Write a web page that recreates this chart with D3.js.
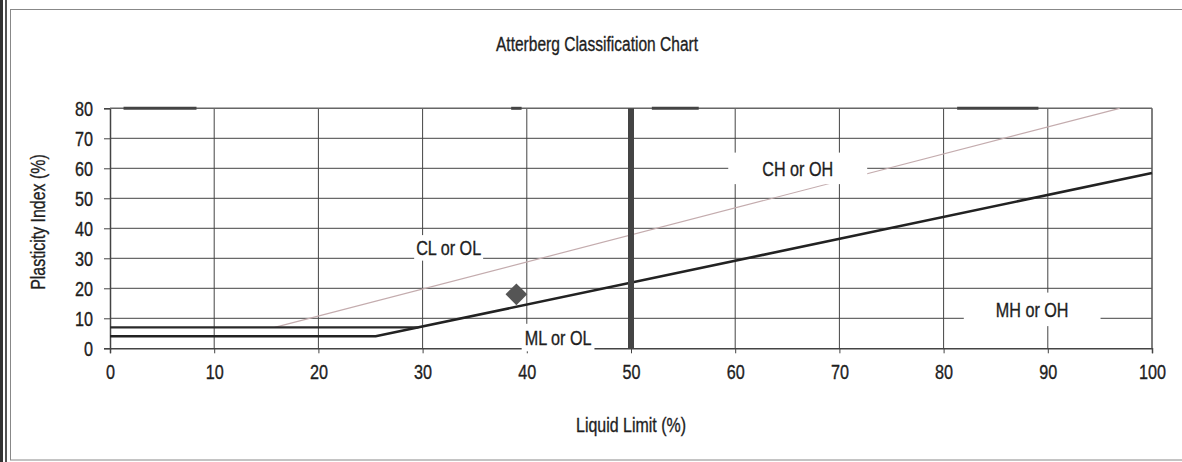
<!DOCTYPE html>
<html>
<head>
<meta charset="utf-8">
<script src="https://cdn.jsdelivr.net/npm/d3@7"></script>
<style>
body { margin: 0; background: #fff; }
text { font-family: "Liberation Sans", Arial, sans-serif; fill: #1e1e1e; stroke: #1e1e1e; stroke-width: 0.35px; }
</style>
</head>
<body>
<div id="chart"></div>
<script>
// axis ticks
const xTicks = [0, 10, 20, 30, 40, 50, 60, 70, 80, 90, 100];
const yTicks = [0, 10, 20, 30, 40, 50, 60, 70, 80];

// classification lines (LL, PI)
const aLine = [{ll: 0, pi: 4}, {ll: 25.5, pi: 4}, {ll: 100, pi: 58.4}];
const upperBand = [{ll: 0, pi: 7}, {ll: 29.6, pi: 7}];
const uLine = [{ll: 15.8, pi: 7}, {ll: 96.9, pi: 80}];
const llBoundary = [{ll: 50, pi: 0}, {ll: 50, pi: 80}];
// stray dark segments along the PI = 80 border
const topMarks = [[1.3, 8.3], [38.5, 39.5], [52, 56.5], [81.3, 89.1]];

// sample result
const samples = [{ll: 39, pi: 18}];

// zone labels
const zones = [
  {name: "CL or OL", ll: 32.5, pi: 33.5, padX: 2, padY: 1},
  {name: "ML or OL", ll: 43, pi: 3.6, padX: 3, padY: 2},
  {name: "CH or OH", ll: 66, pi: 60, padX: 34, padY: 4},
  {name: "MH or OH", ll: 88.5, pi: 13, padX: 32, padY: 5}
];

const W = 1182, H = 462;
const SX = 0.77; // the scanned type is condensed
const svg = d3.select("#chart").append("svg").attr("width", W).attr("height", H);

// place a horizontally condensed text
function narrow(sel, px, py, sx) {
  sel.attr("x", 0).attr("y", 0)
    .attr("transform", `translate(${px},${py}) scale(${sx},1)`);
}

// scanned page frame
svg.append("rect").attr("x", 0).attr("y", 0).attr("width", 3).attr("height", H).attr("fill", "#333");
svg.append("rect").attr("x", 5).attr("y", 0).attr("width", 2).attr("height", H).attr("fill", "#555");
svg.append("rect").attr("x", 10.5).attr("y", 9.5).attr("width", W).attr("height", 450.5)
  .attr("fill", "none").attr("stroke", "#888").attr("stroke-width", 1);

const x = d3.scaleLinear().domain([0, 100]).range([110, 1152]);
const y = d3.scaleLinear().domain([0, 80]).range([348.3, 108.3]);

svg.append("text").attr("text-anchor", "middle").style("font-size", "21px")
  .text("Atterberg Classification Chart")
  .call(narrow, 597, 51, 0.74);

const g = svg.append("g");

// gridlines
g.selectAll(".vgrid").data(xTicks.slice(1, -1)).enter().append("line")
  .attr("x1", d => x(d)).attr("x2", d => x(d)).attr("y1", y(0)).attr("y2", y(80))
  .attr("stroke", "#444").attr("stroke-width", 1);
g.selectAll(".hgrid").data(yTicks.slice(1, -1)).enter().append("line")
  .attr("x1", x(0)).attr("x2", x(100)).attr("y1", d => y(d)).attr("y2", d => y(d))
  .attr("stroke", "#444").attr("stroke-width", 1);

// axes
const xAxis = g.append("g").attr("transform", `translate(0,${y(0)})`)
  .call(d3.axisBottom(x).tickValues(xTicks).tickSize(5));
const yAxis = g.append("g").attr("transform", `translate(${x(0)},0)`)
  .call(d3.axisLeft(y).tickValues(yTicks).tickSize(6));
[xAxis, yAxis].forEach(a => {
  a.select(".domain").attr("stroke", "#444").attr("stroke-width", 1.5);
  a.selectAll(".tick line").attr("stroke", "#444");
  a.selectAll("text").style("font-size", "20px").attr("fill", "#1e1e1e")
    .attr("font-family", null);
});
xAxis.selectAll(".tick text").attr("dy", null).call(narrow, 0, 31, 0.81);
yAxis.selectAll(".tick text").attr("dy", "0.35em").call(narrow, -17, 0, 0.81);

g.append("line").attr("x1", x(100)).attr("x2", x(100)).attr("y1", y(0)).attr("y2", y(80))
  .attr("stroke", "#555").attr("stroke-width", 1.5);
g.append("line").attr("x1", x(0)).attr("x2", x(100)).attr("y1", y(80)).attr("y2", y(80))
  .attr("stroke", "#666").attr("stroke-width", 1.5);

const line = d3.line().x(d => x(d.ll)).y(d => y(d.pi));

// U-line (faint)
g.append("path").datum(uLine).attr("d", line).attr("fill", "none")
  .attr("stroke", "#c4acae").attr("stroke-width", 1.2);

// label boxes hide grid behind them
const labels = g.selectAll(".zone").data(zones).enter().append("g");
labels.append("text").attr("text-anchor", "middle").attr("dy", "0.35em")
  .style("font-size", "21px").text(d => d.name)
  .each(function(d) { d3.select(this).call(narrow, x(d.ll), y(d.pi), SX); });
labels.each(function(d) {
  const bb = d3.select(this).select("text").node().getBBox();
  const w = bb.width * SX;
  d3.select(this).insert("rect", "text")
    .attr("x", x(d.ll) - w / 2 - d.padX).attr("y", y(d.pi) + bb.y - d.padY)
    .attr("width", w + 2 * d.padX).attr("height", bb.height + 2 * d.padY)
    .attr("fill", "#fff");
});

// A-line and band
g.append("path").datum(aLine).attr("d", line).attr("fill", "none")
  .attr("stroke", "#222").attr("stroke-width", 2.6);
g.append("path").datum(upperBand).attr("d", line).attr("fill", "none")
  .attr("stroke", "#2a2a2a").attr("stroke-width", 2.2);

// LL = 50 boundary
g.append("path").datum(llBoundary).attr("d", line).attr("fill", "none")
  .attr("stroke", "#444").attr("stroke-width", 6);

g.selectAll(".topmark").data(topMarks).enter().append("line")
  .attr("x1", d => x(d[0])).attr("x2", d => x(d[1])).attr("y1", y(80)).attr("y2", y(80))
  .attr("stroke", "#444").attr("stroke-width", 3);

// sample point
g.selectAll(".pt").data(samples).enter().append("path")
  .attr("transform", d => `translate(${x(d.ll)},${y(d.pi)})`)
  .attr("d", d3.symbol().type(d3.symbolDiamond2).size(300))
  .attr("fill", "#555");

// axis titles
svg.append("text").attr("text-anchor", "middle").style("font-size", "21px")
  .text("Liquid Limit (%)")
  .call(narrow, x(50), 432, 0.76);
svg.append("text").attr("text-anchor", "middle").style("font-size", "21px")
  .text("Plasticity Index (%)")
  .attr("x", 0).attr("y", 0)
  .attr("transform", `translate(45,222) rotate(-90) scale(0.76,1)`);
</script>
</body>
</html>
